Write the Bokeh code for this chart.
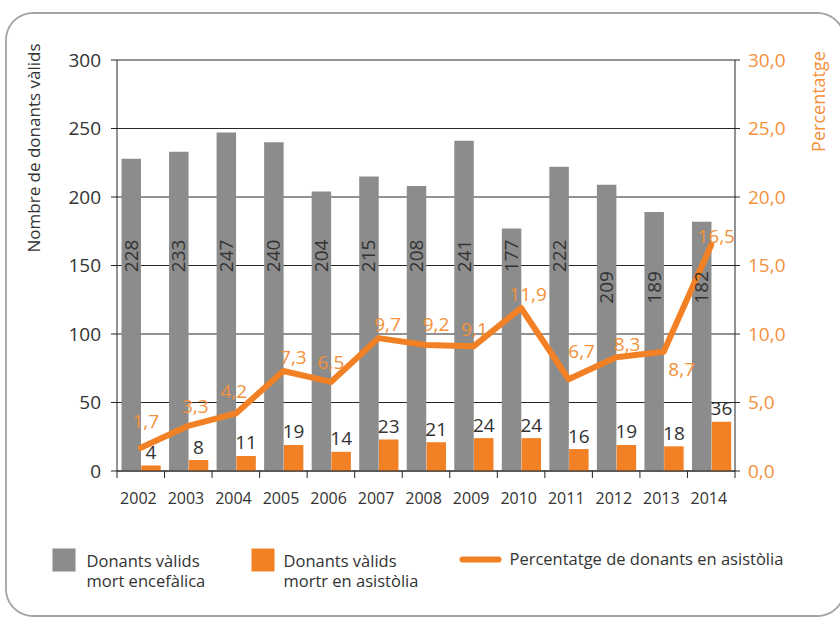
import math
import numpy as np
from bokeh.plotting import figure
from bokeh.models import Range1d, ColumnDataSource
from bokeh.core.properties import value
from bokeh.embed import file_html
from bokeh.resources import INLINE

# ---------------- data ----------------
years = ["2002", "2003", "2004", "2005", "2006", "2007", "2008",
         "2009", "2010", "2011", "2012", "2013", "2014"]
mort_encefalica = [228, 233, 247, 240, 204, 215, 208, 241, 177, 222, 209, 189, 182]
mort_asistolia = [4, 8, 11, 19, 14, 23, 21, 24, 24, 16, 19, 18, 36]
percentatge = [1.7, 3.3, 4.2, 7.3, 6.5, 9.7, 9.2, 9.1, 11.9, 6.7, 8.3, 8.7, 16.5]
left_ticks = [0, 50, 100, 150, 200, 250, 300]
left_tick_labels = ["0", "50", "100", "150", "200", "250", "300"]
right_ticks = [0, 5, 10, 15, 20, 25, 30]
right_tick_labels = ["0,0", "5,0", "10,0", "15,0", "20,0", "25,0", "30,0"]
left_title = "Nombre de donants vàlids"
right_title = "Percentatge"
legend_labels = [["Donants vàlids", "mort encefàlica"],
                 ["Donants vàlids", "mortr en asistòlia"],
                 ["Percentatge de donants en asistòlia"]]

# ---------------- styles ----------------
FONT = "Open Sans"
GRAY = "#8c8c8c"
ORANGE = "#f28024"
ORANGE_TXT = "#f4913b"
DARK = "#333333"
AXIS = "#262626"
BORDER = "#a3a3a3"

# label placement (style only)
gray_label_y = [157] * 10 + [134] * 3
pct_dx = [5, 7, -2, 10, 0, 9, 10, 1, 7, 13, 11, 18, 5]
pct_dy = [-26, -19, -22, -13, -19, -14, -20, -17, -13, -28, -13, 18, -8]

# ---------------- page geometry (pixels) ----------------
W, H = 840, 617
L, R, T, B = 116.5, 734.5, 59.5, 470.5     # plot area
n = len(years)
YMAX = left_ticks[-1]
PMAX = right_ticks[-1]

sx = (R - L) / n
x0 = -0.5 - L / sx
sy = (B - T) / YMAX
y0 = -(H - B) / sy
psy = (B - T) / PMAX
p0 = -(H - B) / psy

p = figure(width=W, height=H, output_backend="svg", toolbar_location=None,
           x_range=Range1d(x0, x0 + W / sx), y_range=Range1d(y0, y0 + H / sy),
           min_border=0, x_axis_location=None, y_axis_location=None, title=None,
           background_fill_color="white", border_fill_color="white")
p.grid.visible = False
p.outline_line_color = None
p.extra_y_ranges = {"pct": Range1d(p0, p0 + H / psy), "px": Range1d(H, 0)}
p.extra_x_ranges = {"px": Range1d(0, W)}

idx = list(range(n))
src = ColumnDataSource(dict(
    idx=idx,
    xg=[i - 0.2 for i in idx],
    xo=[i + 0.215 for i in idx],
    enc=mort_encefalica,
    asi=mort_asistolia,
    pct=percentatge,
    enc_txt=[str(v) for v in mort_encefalica],
    asi_txt=[str(v) for v in mort_asistolia],
    pct_txt=[f"{v:.1f}".replace(".", ",") for v in percentatge],
    gy=gray_label_y,
    pdx=pct_dx,
    pdy=pct_dy,
))

# gridlines
p.segment(x0=[-0.5] * len(left_ticks), x1=[n - 0.5] * len(left_ticks),
          y0=left_ticks, y1=left_ticks, line_color=AXIS, line_width=1)

# bars & line
p.vbar(x="xg", top="enc", width=0.41, source=src, fill_color=GRAY, line_color=None)
p.vbar(x="xo", top="asi", width=0.41, source=src, fill_color=ORANGE, line_color=None)
p.line(x="idx", y="pct", source=src, y_range_name="pct", line_width=6,
       line_color=ORANGE, line_join="round", line_cap="round")

# axis lines
p.segment(x0=[-0.5, n - 0.5, -0.5], x1=[-0.5, n - 0.5, n - 0.5],
          y0=[0, 0, 0], y1=[YMAX, YMAX, 0], line_color=AXIS, line_width=1)

# left axis ticks & labels
p.segment(x0=[L - 6] * len(left_ticks), x1=[L] * len(left_ticks),
          y0=left_ticks, y1=left_ticks, x_range_name="px",
          line_color=AXIS, line_width=1)
p.text(x=[L - 16] * len(left_ticks), y=left_ticks, text=left_tick_labels,
       x_range_name="px", text_align="right", text_baseline="middle",
       text_font=value(FONT), text_font_size="19px", text_color=DARK)

# right axis ticks & labels
p.segment(x0=[R] * len(right_ticks), x1=[R + 5] * len(right_ticks),
          y0=right_ticks, y1=right_ticks, x_range_name="px", y_range_name="pct",
          line_color=AXIS, line_width=1)
p.text(x=[R + 13] * len(right_ticks), y=right_ticks, text=right_tick_labels,
       x_range_name="px", y_range_name="pct", text_align="left",
       text_baseline="middle", text_font=value(FONT),
       text_font_size="19px", text_color=ORANGE_TXT)

# x axis: boundary ticks & year labels
bounds = [i - 0.5 for i in range(n + 1)]
p.segment(x0=bounds, x1=bounds, y0=[B] * len(bounds), y1=[B + 7] * len(bounds),
          y_range_name="px", line_color=AXIS, line_width=1)
p.text(x=[i - 0.05 for i in idx], y=[497] * n, text=years, y_range_name="px",
       text_align="center", text_baseline="middle", text_font=value(FONT),
       text_font_size="16px", text_color=DARK)

# data labels
p.text(x="xg", y="gy", text="enc_txt", source=src, angle=math.pi / 2,
       text_align="center", text_baseline="middle", text_font=value(FONT),
       text_font_size="19px", text_color=DARK)
p.text(x="xo", y="asi", text="asi_txt", source=src, y_offset=-13,
       text_align="center", text_baseline="middle", text_font=value(FONT),
       text_font_size="19px", text_color=DARK)
p.text(x="idx", y="pct", text="pct_txt", source=src, y_range_name="pct",
       x_offset="pdx", y_offset="pdy", text_align="center",
       text_baseline="middle", text_font=value(FONT), text_font_size="19px",
       text_color=ORANGE_TXT)

# axis titles
p.text(x=[33], y=[147.5], text=[left_title], x_range_name="px", y_range_name="px",
       angle=math.pi / 2, text_align="center", text_baseline="middle",
       text_font=value(FONT), text_font_size="17px", text_color=DARK)
p.text(x=[817], y=[101], text=[right_title], x_range_name="px", y_range_name="px",
       angle=math.pi / 2, text_align="center", text_baseline="middle",
       text_font=value(FONT), text_font_size="18px", text_color=ORANGE_TXT)

# legend
p.quad(left=[52, 251], right=[75, 274], top=[548, 548], bottom=[571, 571],
       x_range_name="px", y_range_name="px",
       fill_color=[GRAY, ORANGE], line_color=None)
p.line(x=[462, 498], y=[559, 559], x_range_name="px", y_range_name="px",
       line_color=ORANGE, line_width=6, line_cap="round")
p.text(x=[86, 86, 283, 283, 509], y=[560, 580, 560, 580, 558],
       text=legend_labels[0] + legend_labels[1] + legend_labels[2],
       x_range_name="px", y_range_name="px", text_align="left",
       text_baseline="middle", text_font=value(FONT),
       text_font_size="16.5px", text_color=DARK)


# rounded frame around the whole chart
def rounded_rect_path(l, t, r, b, rad, k=16):
    xs, ys = [], []
    corners = [(r - rad, t + rad, -90, 0), (r - rad, b - rad, 0, 90),
               (l + rad, b - rad, 90, 180), (l + rad, t + rad, 180, 270)]
    for cx, cy, a0, a1 in corners:
        for a in np.linspace(math.radians(a0), math.radians(a1), k):
            xs.append(cx + rad * math.cos(a))
            ys.append(cy + rad * math.sin(a))
    xs.append(xs[0])
    ys.append(ys[0])
    return xs, ys


bx, by = rounded_rect_path(5.5, 12.5, 844, 615.5, 27)
p.line(x=bx, y=by, x_range_name="px", y_range_name="px",
       line_color=BORDER, line_width=1.8)

open("out.html", "w").write(file_html(p, INLINE))
